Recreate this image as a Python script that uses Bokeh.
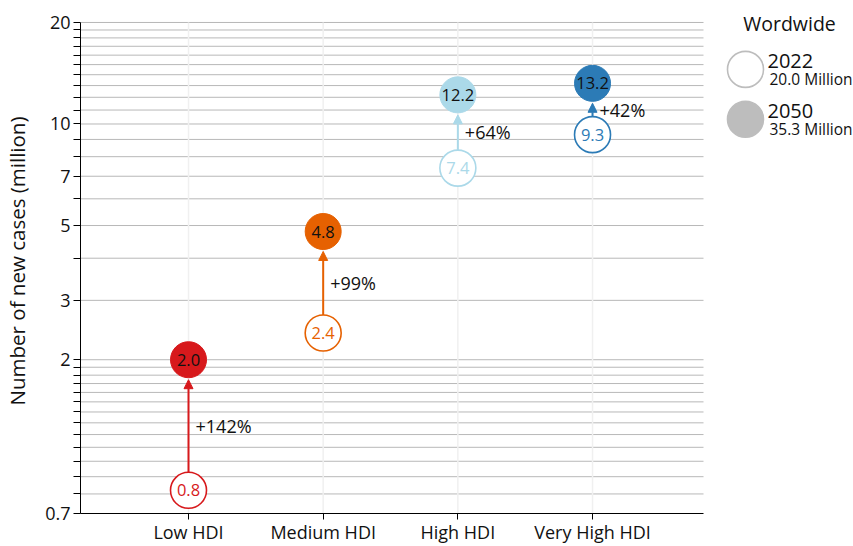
import math
from bokeh.plotting import figure
from bokeh.models import (Range1d, FixedTicker, CustomJSTickFormatter, ColumnDataSource,
                          Arrow, NormalHead, LinearScale)
from bokeh.core.properties import value
from bokeh.embed import file_html
from bokeh.resources import INLINE

# ---------------- data ----------------
categories = ["Low HDI", "Medium HDI", "High HDI", "Very High HDI"]
cases_2022 = [0.82, 2.4, 7.4, 9.3]
cases_2050 = [2.0, 4.8, 12.2, 13.2]
pct_change = ["+142%", "+99%", "+64%", "+42%"]
colors = ["#d7191c", "#e66101", "#abd9e9", "#2c7bb6"]

y_major_ticks = [0.7, 2, 3, 5, 7, 10, 20]
y_minor_ticks = [0.8, 0.9, 1.0, 1.1, 1.2, 1.3, 1.4, 1.5, 1.6, 1.7, 1.8, 1.9,
                 4, 6, 8, 9, 11, 12, 13, 14, 15, 16, 17, 18, 19]

legend_title = "Wordwide"
legend_years = ["2022", "2050"]
legend_totals = ["20.0 Million", "35.3 Million"]

FONT = "Open Sans"

# ---------------- layout geometry (px) ----------------
W, H = 853, 546
LEFT, TOP, BOTTOM = 80, 8, 32          # borders
AX_TOP = 22                              # page y of the value 20
PLOT_RIGHT = 703                         # page x where the chart area ends
Y0, Y1 = 0.7, 20
frame_bottom = H - BOTTOM
k = (frame_bottom - AX_TOP) / math.log(Y1 / Y0)   # px per ln unit
y_top = Y1 * math.exp((AX_TOP - TOP) / k)
step = (PLOT_RIGHT - LEFT) / 4.626
x_start = -0.802
x_plot_end = x_start + (PLOT_RIGHT - LEFT) / step
x_end = x_start + (W - LEFT) / step

p = figure(width=W, height=H, y_axis_type="log", title=None,
           x_range=Range1d(x_start, x_end), y_range=Range1d(Y0, y_top),
           toolbar_location=None, output_backend="svg",
           min_border_left=LEFT, min_border_right=0,
           min_border_top=TOP, min_border_bottom=BOTTOM)
p.outline_line_color = None
p.xgrid.visible = False
p.ygrid.visible = False

# y axis
p.yaxis.ticker = FixedTicker(ticks=y_major_ticks, minor_ticks=y_minor_ticks)
p.yaxis.formatter = CustomJSTickFormatter(code="return String(tick)")
p.yaxis.bounds = (Y0, Y1)
p.yaxis.axis_label = "Number of new cases (million)"
p.yaxis.axis_label_text_font = FONT
p.yaxis.axis_label_text_font_size = "20.5px"
p.yaxis.axis_label_text_font_style = "normal"
p.yaxis.axis_label_text_color = "#111111"
p.yaxis.axis_label_standoff = 11
p.yaxis.major_label_text_font = FONT
p.yaxis.major_label_text_font_size = "18px"
p.yaxis.major_label_text_color = "#111111"
p.yaxis.major_label_standoff = 3
p.yaxis.major_tick_out = 7
p.yaxis.major_tick_in = 0
p.yaxis.minor_tick_out = 7
p.yaxis.minor_tick_in = 0
p.yaxis.axis_line_color = "black"

# x axis
xs = list(range(len(categories)))
p.xaxis.ticker = FixedTicker(ticks=xs)
p.xaxis.formatter = CustomJSTickFormatter(args=dict(labels=categories),
                                          code="return labels[Math.round(tick)] || ''")
p.xaxis.bounds = (x_start, x_plot_end)
p.xaxis.major_label_text_font = FONT
p.xaxis.major_label_text_font_size = "18px"
p.xaxis.major_label_text_color = "#111111"
p.xaxis.major_label_standoff = 0
p.xaxis.major_tick_out = 6
p.xaxis.major_tick_in = 0
p.xaxis.minor_tick_out = 0
p.xaxis.minor_tick_in = 0
p.xaxis.axis_line_color = "black"

# grid lines limited to the chart area
grid_vals = y_major_ticks[1:] + y_minor_ticks
p.segment(x0=[x_start] * len(grid_vals), x1=[x_plot_end] * len(grid_vals),
          y0=grid_vals, y1=grid_vals, line_color="#b8b8b8", line_width=1, level="underlay")
p.segment(x0=xs, x1=xs, y0=[Y0] * len(xs), y1=[Y1] * len(xs),
          line_color="#f0f0f0", line_width=1.5, level="underlay")

R = 18  # circle radius in px
arrow_start = [v * math.exp(R / k) for v in cases_2022]
arrow_end = [v * math.exp(-(R + 2) / k) for v in cases_2050]
label_y = [math.sqrt(a * b) for a, b in zip(arrow_start, arrow_end)]

src = ColumnDataSource(dict(
    x=xs, y22=cases_2022, y50=cases_2050, color=colors,
    t22=[f"{v:.1f}" for v in cases_2022], t50=[f"{v:.1f}" for v in cases_2050],
    ly=label_y, pct=pct_change,
))

for i, c in enumerate(colors):
    p.add_layout(Arrow(x_start=xs[i], y_start=arrow_start[i], x_end=xs[i], y_end=arrow_end[i],
                       line_color=c, line_width=2,
                       end=NormalHead(size=9, fill_color=c, line_color=c, line_width=1)))

p.scatter("x", "y22", source=src, size=2 * R, marker="circle",
          fill_color="white", line_color="color", line_width=1.6)
p.scatter("x", "y50", source=src, size=2 * R, marker="circle",
          fill_color="color", line_color="color", line_width=1)

p.text("x", "y22", text="t22", source=src, text_color="color",
       text_align="center", text_baseline="middle",
       text_font=value(FONT), text_font_size="16.5px")
p.text("x", "y50", text="t50", source=src, text_color="#111111",
       text_align="center", text_baseline="middle",
       text_font=value(FONT), text_font_size="16.5px")
p.text("x", "ly", text="pct", source=src, text_color="#111111",
       x_offset=7, text_align="left", text_baseline="middle",
       text_font=value(FONT), text_font_size="18px")

# ---------------- legend (page-pixel coordinates via extra ranges) ----------------
p.extra_x_ranges = {"px": Range1d(LEFT, W)}
p.extra_y_ranges = {"px": Range1d(frame_bottom, TOP)}
p.extra_x_scales = {"px": LinearScale()}
p.extra_y_scales = {"px": LinearScale()}

lsrc = ColumnDataSource(dict(
    cx=[745, 745], cy=[69, 119], fill=["white", "#bdbdbd"],
    tx=[767, 767], ty=[61, 111], year=legend_years,
    sx=[769, 769], sy=[79, 129], total=legend_totals,
))
p.scatter("cx", "cy", source=lsrc, size=36, marker="circle",
          fill_color="fill", line_color="#bdbdbd", line_width=1.6,
          x_range_name="px", y_range_name="px")
p.text("tx", "ty", text="year", source=lsrc, text_color="#111111",
       text_align="left", text_baseline="middle",
       text_font=value(FONT), text_font_size="20px",
       x_range_name="px", y_range_name="px")
p.text("sx", "sy", text="total", source=lsrc, text_color="#111111",
       text_align="left", text_baseline="middle",
       text_font=value(FONT), text_font_size="15.5px",
       x_range_name="px", y_range_name="px")
p.text(x=[789], y=[23], text=[legend_title], text_color="#111111",
       text_align="center", text_baseline="middle",
       text_font=value(FONT), text_font_size="19.5px",
       x_range_name="px", y_range_name="px")

open("out.html", "w").write(file_html(p, INLINE))
